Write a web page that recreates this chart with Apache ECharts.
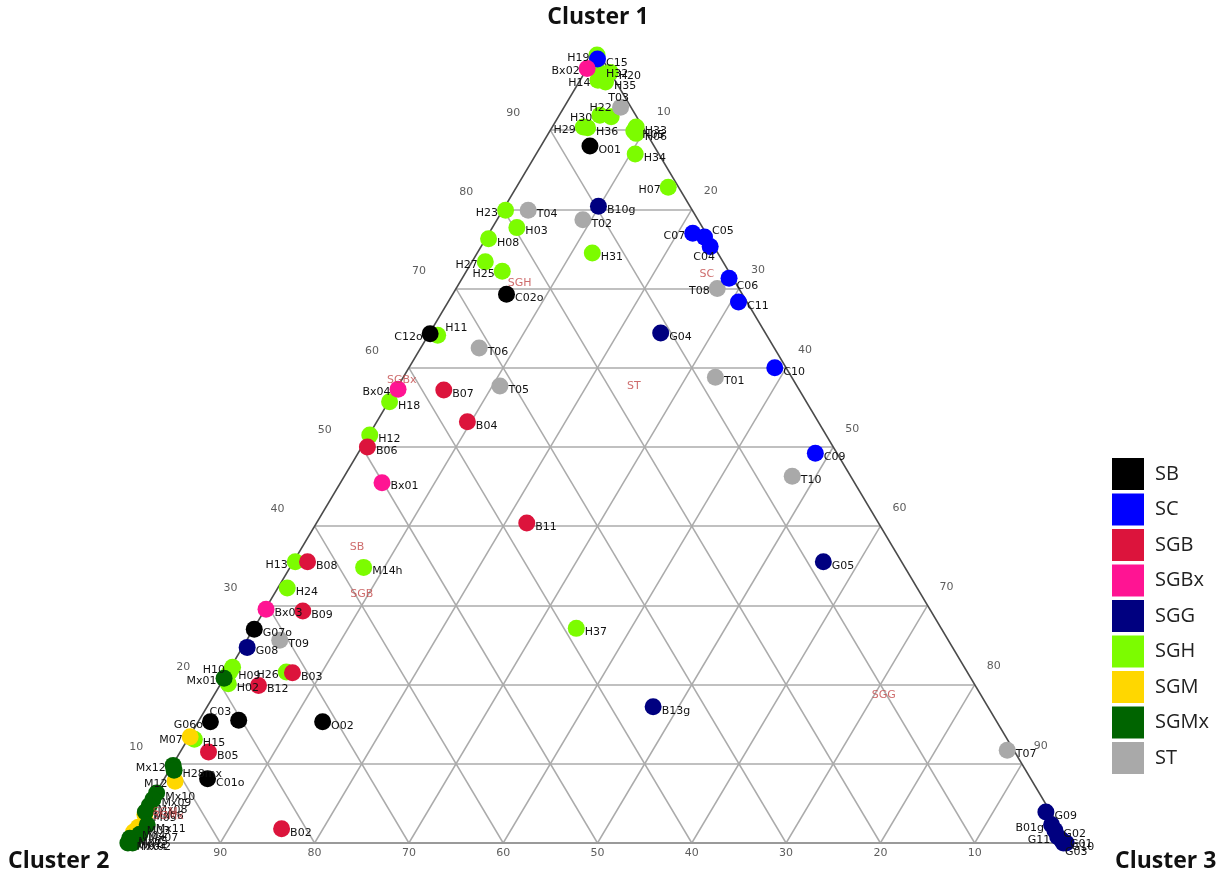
<!DOCTYPE html>
<html>
<head>
<meta charset="utf-8">
<script src="https://cdn.jsdelivr.net/npm/echarts@6/dist/echarts.min.js"></script>
<style>
  html, body { margin: 0; padding: 0; background: #ffffff; }
  #chart { width: 1226px; height: 878px; }
</style>
</head>
<body>
<div id="chart"></div>
<script>
// ---- data: compositions are [Cluster 1, Cluster 2, Cluster 3] in percent ----
const vertexNames = ['Cluster 1', 'Cluster 2', 'Cluster 3'];
const groups = ['SB', 'SC', 'SGB', 'SGBx', 'SGG', 'SGH', 'SGM', 'SGMx', 'ST'];
const groupColors = ['#000000', '#0000ff', '#dc143c', '#ff1493', '#000080', '#7cfc00', '#ffd700', '#006400', '#a9a9a9'];
const tickValues = [10, 20, 30, 40, 50, 60, 70, 80, 90];

const sbNames = ['O01', 'C02o', 'C12o', 'G07o', 'C03', 'G06o', 'O02', 'C01o'];
const sbComp = [[88.0, 6.8, 5.2], [69.3, 25.0, 5.7], [64.3, 35.6, 0.1], [27.0, 72.9, 0.1],
  [15.5, 80.3, 4.2], [15.3, 83.4, 1.3], [15.3, 71.5, 13.2], [8.1, 87.3, 4.6]];

const scNames = ['C15', 'C07', 'C05', 'C04', 'C06', 'C11', 'C10', 'C09'];
const scComp = [[99.0, 0.5, 0.5], [77.0, 1.4, 21.6], [76.5, 0.4, 23.1], [75.3, 0.4, 24.3],
  [71.3, 0.4, 28.3], [68.3, 0.9, 30.8], [60.0, 1.2, 38.8], [49.2, 2.3, 48.5]];

const sgbNames = ['B07', 'B04', 'B06', 'B11', 'B08', 'B09', 'B03', 'B12', 'B05', 'B02'];
const sgbComp = [[57.2, 37.7, 5.1], [53.2, 37.2, 9.6], [50.0, 49.4, 0.6], [40.4, 37.3, 22.3],
  [35.5, 63.0, 1.5], [29.3, 66.6, 4.1], [21.5, 71.6, 6.9], [19.9, 76.0, 4.1], [11.5, 85.5, 3.0], [1.8, 82.6, 15.6]];

const sgbxNames = ['Bx02', 'Bx04', 'Bx01', 'Bx03'];
const sgbxComp = [[97.8, 2.2, 0.0], [57.3, 42.5, 0.2], [45.5, 50.1, 4.4], [29.5, 70.4, 0.1]];

const sggNames = ['B10g', 'G04', 'G05', 'G08', 'B13g', 'G09', 'B01g', 'G02', 'G11', 'G01', 'G10', 'G03'];
const sggComp = [[80.4, 9.7, 9.9], [64.4, 11.1, 24.5], [35.5, 8.3, 56.2], [24.7, 74.8, 0.5],
  [17.2, 35.5, 47.3], [3.9, 0.5, 95.6], [2.3, 0.7, 97.0], [1.6, 0.7, 97.7], [0.8, 0.8, 98.4],
  [0.4, 0.6, 99.0], [0.0, 0.6, 99.4], [0.0, 0.3, 99.7]];

const sghNames = ['H19', 'H32', 'H20', 'H14', 'H35', 'H30', 'H22', 'H29', 'H36', 'H33', 'H05', 'H06',
  'H34', 'H07', 'H23', 'H03', 'H08', 'H31', 'H27', 'H25', 'H11', 'H18', 'H12', 'H13', 'M14h', 'H24',
  'H37', 'H10', 'H09', 'H26', 'H02', 'H15'];
const sghComp = [[99.5, 0.3, 0.2], [97.6, 1.2, 1.2], [97.3, 0.0, 2.7], [96.3, 1.8, 1.9], [96.1, 1.1, 2.8],
  [91.9, 3.8, 4.3], [91.7, 2.7, 5.6], [90.4, 6.3, 3.3], [90.3, 5.9, 3.8], [90.4, 0.7, 8.9], [89.9, 1.2, 8.9],
  [89.6, 1.1, 9.3], [87.0, 2.5, 10.5], [82.8, 1.1, 16.1], [79.9, 19.8, 0.3], [77.7, 19.7, 2.6],
  [76.3, 23.4, 0.3], [74.5, 13.3, 12.2], [73.4, 25.2, 1.4], [72.2, 24.0, 3.8], [64.1, 34.9, 1.0],
  [55.7, 44.2, 0.1], [51.5, 48.4, 0.1], [35.5, 64.3, 0.2], [34.8, 57.4, 7.8], [32.2, 66.8, 1.0],
  [27.1, 38.7, 34.2], [22.2, 77.6, 0.2], [21.6, 78.2, 0.2], [21.6, 72.2, 6.2], [20.1, 79.1, 0.8],
  [13.1, 86.2, 0.7]];

const sgmNames = ['M07', 'M12', 'M05', 'M03', 'M04', 'M01'];
const sgmComp = [[13.4, 86.5, 0.1], [7.8, 90.9, 1.3], [3.6, 96.2, 0.2], [2.0, 97.7, 0.3],
  [1.4, 98.5, 0.1], [0.4, 99.4, 0.2]];

const sgmxNames = ['Mx01', 'Mx12', 'H28mx', 'Mx10', 'Mx09', 'Mx08', 'Mx06', 'Mx11', 'Mx07', 'Mx05', 'Mx02', 'Mx04'];
const sgmxComp = [[20.8, 79.2, 0.0], [9.8, 90.1, 0.1], [9.2, 90.3, 0.5], [6.3, 93.6, 0.1],
  [5.5, 94.4, 0.1], [4.7, 95.2, 0.1], [3.9, 96.0, 0.1], [2.3, 96.6, 1.1], [1.1, 98.0, 0.9],
  [0.6, 99.3, 0.1], [0.0, 99.3, 0.7], [0.0, 99.8, 0.2]];

const stNames = ['T03', 'T04', 'T02', 'T08', 'T06', 'T01', 'T05', 'T10', 'T09', 'T07'];
const stComp = [[92.9, 1.1, 6.0], [79.9, 17.4, 2.7], [78.7, 12.2, 9.1], [70.0, 2.3, 27.7],
  [62.5, 31.3, 6.2], [58.8, 8.1, 33.1], [57.7, 31.5, 10.8], [46.3, 6.2, 47.5], [25.6, 70.9, 3.5],
  [11.7, 0.7, 87.6]];

// group name annotations inside the triangle
const regionNames = ['SGH', 'SGBx', 'ST', 'SC', 'SB', 'SGB', 'SGG', 'SGM', 'SGMx'];
const regionComp = [[70.7, 22.9, 6.4], [58.5, 41.5, 0.0], [57.7, 17.3, 25.0], [71.8, 2.5, 25.7],
  [37.4, 56.8, 5.8], [31.4, 59.3, 9.3], [18.7, 10.3, 71.0], [3.9, 93.9, 2.2], [3.4, 93.85, 2.75]];

const groupNames = [sbNames, scNames, sgbNames, sgbxNames, sggNames, sghNames, sgmNames, sgmxNames, stNames];
const groupComp = [sbComp, scComp, sgbComp, sgbxComp, sggComp, sghComp, sgmComp, sgmxComp, stComp];

// ---- label placement (sample names that sit left / above / below their dot) ----
const leftLabelled = ['H19', 'Bx02', 'H14', 'H30', 'H29', 'H23', 'H27', 'H25', 'C07', 'T08', 'C12o',
  'Bx04', 'H13', 'H10', 'Mx01', 'H26', 'G06o', 'M07', 'Mx12', 'M12', 'B01g', 'G11', 'H07'];
const labelTweaks = {
  T03: { position: 'top', offset: [-2, 6] },
  H22: { position: 'left', offset: [10, -9] },
  C04: { position: 'bottom', offset: [-6, -4] },
  C05: { position: 'right', offset: [-2, -6] },
  H11: { position: 'right', offset: [-2, -7] },
  C03: { position: 'left', offset: [2, -8] },
  G03: { position: 'bottom', offset: [10, -6] },
  C06: { position: 'right', offset: [-2, 8] }
};

// ternary composition -> cartesian point (x across the base, y = Cluster 1 share)
function toXY(comp) {
  const s = comp[0] + comp[1] + comp[2];
  const a = comp[0] / s, c = comp[2] / s;
  return [c + a / 2, a];
}

// ---- grid and frame ----
const gridLines = [];
tickValues.forEach(function (k) {
  gridLines.push({ coords: [toXY([k, 100 - k, 0]), toXY([k, 0, 100 - k])] });
  gridLines.push({ coords: [toXY([0, 100 - k, k]), toXY([100 - k, 0, k])] });
  gridLines.push({ coords: [toXY([0, k, 100 - k]), toXY([100 - k, k, 0])] });
});
const sideEdges = [
  { coords: [toXY([0, 100, 0]), toXY([100, 0, 0])] },
  { coords: [toXY([0, 0, 100]), toXY([100, 0, 0])] }
];
const baseEdge = [{ coords: [toXY([0, 100, 0]), toXY([0, 0, 100])] }];

const tickFont = { color: '#333', fontSize: 11, fontFamily: 'DejaVu Sans' };

function tickSeries(points, offset) {
  return {
    type: 'scatter', silent: true, symbolSize: 0, z: 3, clip: false,
    data: points,
    label: Object.assign({ show: true, formatter: '{b}', position: 'inside', offset: offset }, tickFont)
  };
}

const leftTicks = tickValues.map(function (v) { return { name: String(v), value: toXY([v, 100 - v, 0]) }; });
const rightTicks = tickValues.map(function (v) { return { name: String(v), value: toXY([100 - v, 0, v]) }; });
const baseTicks = tickValues.map(function (v) { return { name: String(v), value: toXY([0, v, 100 - v]) }; });

function pointSeries(gi) {
  const names = groupNames[gi];
  const data = groupComp[gi].map(function (comp, i) {
    const name = names[i];
    const item = { name: name, value: toXY(comp) };
    if (labelTweaks[name]) {
      item.label = { position: labelTweaks[name].position, offset: labelTweaks[name].offset };
    } else if (leftLabelled.indexOf(name) >= 0) {
      item.label = { position: 'left', offset: [2, 3] };
    }
    return item;
  });
  return {
    name: groups[gi], type: 'scatter', clip: false, z: 4,
    symbol: 'circle', symbolSize: 17,
    itemStyle: { color: groupColors[gi], opacity: 1 },
    label: {
      show: true, formatter: '{b}', position: 'right', distance: 1, offset: [-1, 4],
      color: '#111', fontSize: 11, fontFamily: 'DejaVu Sans'
    },
    emphasis: { disabled: true },
    data: data
  };
}

// drawing order: later groups sit on top of earlier ones
const drawOrder = ['SGH', 'ST', 'SGG', 'SC', 'SB', 'SGB', 'SGBx', 'SGM', 'SGMx'];

const series = [
  {
    type: 'lines', coordinateSystem: 'cartesian2d', silent: true, z: 1,
    lineStyle: { color: '#ababab', width: 1.5, opacity: 1 }, data: gridLines
  },
  {
    type: 'lines', coordinateSystem: 'cartesian2d', silent: true, z: 1,
    lineStyle: { color: '#9a9a9a', width: 2, opacity: 1 }, data: baseEdge
  },
  {
    type: 'lines', coordinateSystem: 'cartesian2d', silent: true, z: 1,
    lineStyle: { color: '#4a4a4a', width: 1.5, opacity: 1 }, data: sideEdges
  },
  tickSeries(leftTicks, [-37, -17]),
  tickSeries(rightTicks, [19, -18]),
  tickSeries(baseTicks, [0, 10])
];
drawOrder.forEach(function (g) { series.push(pointSeries(groups.indexOf(g))); });
series.push({
  type: 'scatter', silent: true, symbolSize: 0, z: 5, clip: false,
  data: regionNames.map(function (n, i) { return { name: n, value: toXY(regionComp[i]) }; }),
  label: { show: true, formatter: '{b}', position: 'inside', color: '#c24848', fontSize: 11, fontFamily: 'DejaVu Sans' }
});

const titleFont = { fontSize: 23, fontWeight: 'bold', fontFamily: 'Open Sans', fill: '#111' };

const chart = echarts.init(document.getElementById('chart'), null, { renderer: 'canvas' });
chart.setOption({
  animation: false,
  backgroundColor: '#ffffff',
  grid: { left: 126, right: 157, top: 51, bottom: 35 },
  xAxis: { type: 'value', min: 0, max: 1, show: false },
  yAxis: { type: 'value', min: 0, max: 1, show: false },
  legend: {
    data: groups, orient: 'vertical', left: 1112, top: 458, padding: 0,
    icon: 'rect', itemWidth: 32, itemHeight: 32, itemGap: 3.5,
    textStyle: { fontSize: 20, color: '#222', fontFamily: 'Open Sans', padding: [0, 0, 0, 6] },
    selectedMode: false
  },
  graphic: [
    { type: 'text', x: 598, y: 6, style: Object.assign({ text: vertexNames[0], align: 'center' }, titleFont) },
    { type: 'text', left: 8, top: 850, style: Object.assign({ text: vertexNames[1] }, titleFont) },
    { type: 'text', left: 1115, top: 850, style: Object.assign({ text: vertexNames[2] }, titleFont) }
  ],
  series: series
});
</script>
</body>
</html>
